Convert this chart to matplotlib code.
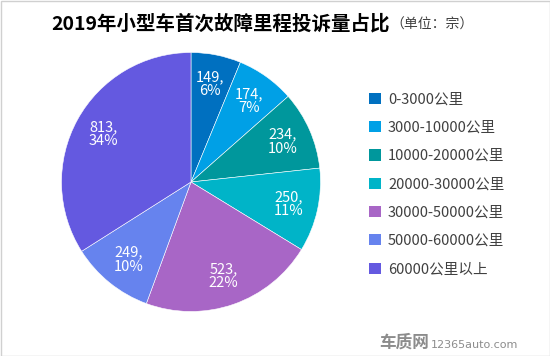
import matplotlib
matplotlib.use("Agg")
import matplotlib.pyplot as plt
from matplotlib.patches import Rectangle, Patch

plt.rcParams['font.family'] = ['Noto Sans CJK SC', 'DejaVu Sans']

categories = ["0-3000公里", "3000-10000公里", "10000-20000公里", "20000-30000公里",
              "30000-50000公里", "50000-60000公里", "60000公里以上"]
values = [149, 174, 234, 250, 523, 249, 813]
percents = [6, 7, 10, 11, 22, 10, 34]
colors = ["#0070C0", "#00A0E6", "#00979C", "#00B4C8", "#A866C6", "#6683EE", "#6459E0"]

title = "2019年小型车首次故障里程投诉量占比"
subtitle = "（单位：宗）"

fig = plt.figure(figsize=(5.5, 3.56), dpi=100)
fig.patch.set_facecolor("white")

ax = fig.add_axes([61.5 / 550, (356 - 311.5) / 356, 259 / 550, 259 / 356])

label_iter = iter(f"{v},\n{p}%" for v, p in zip(values, percents))

def fmt(pct):
    return next(label_iter)

wedges, texts, autotexts = ax.pie(
    values, colors=colors, startangle=90, counterclock=False,
    autopct=fmt, pctdistance=0.77, radius=1,
    wedgeprops=dict(edgecolor="white", linewidth=0.4),
    textprops=dict(color="white", fontsize=10.5))
for t in autotexts:
    t.set_linespacing(1.0)
    t.set_multialignment("center")
ax.set_xlim(-1, 1)
ax.set_ylim(-1, 1)
ax.set_aspect("equal")
ax.axis("off")

handles = [Patch(facecolor=c, edgecolor="none") for c in colors]
leg = fig.legend(handles, categories, loc="upper left",
                 bbox_to_anchor=(369 / 550, 1 - 92.5 / 356), frameon=False,
                 fontsize=10.5, handlelength=0.8, handleheight=0.8,
                 handletextpad=0.5, labelspacing=0.98, borderaxespad=0,
                 borderpad=0)
for t in leg.get_texts():
    t.set_color("#404040")

fig.text(221 / 550, 1 - 24 / 356, title, ha="center", va="center",
         fontsize=14, fontweight="bold", color="black")
fig.text(390 / 550, 1 - 25 / 356, subtitle, ha="left", va="center",
         fontsize=10, color="#404040")

fig.text(404 / 550, 1 - 343 / 356, "车质网", ha="center", va="center",
         fontsize=12, fontweight="bold", color="#8C8C8C")
fig.text(475 / 550, 1 - 345 / 356, "12365auto.com", ha="center", va="center",
         fontsize=8, color="#8C8C8C", family=["DejaVu Sans"])

fig.add_artist(Rectangle((0.5 / 550, 0.5 / 356), 549 / 550, 355 / 356,
                         transform=fig.transFigure, fill=False,
                         edgecolor="#D0D0D0", linewidth=1))

fig.savefig("out.png", dpi=100)
